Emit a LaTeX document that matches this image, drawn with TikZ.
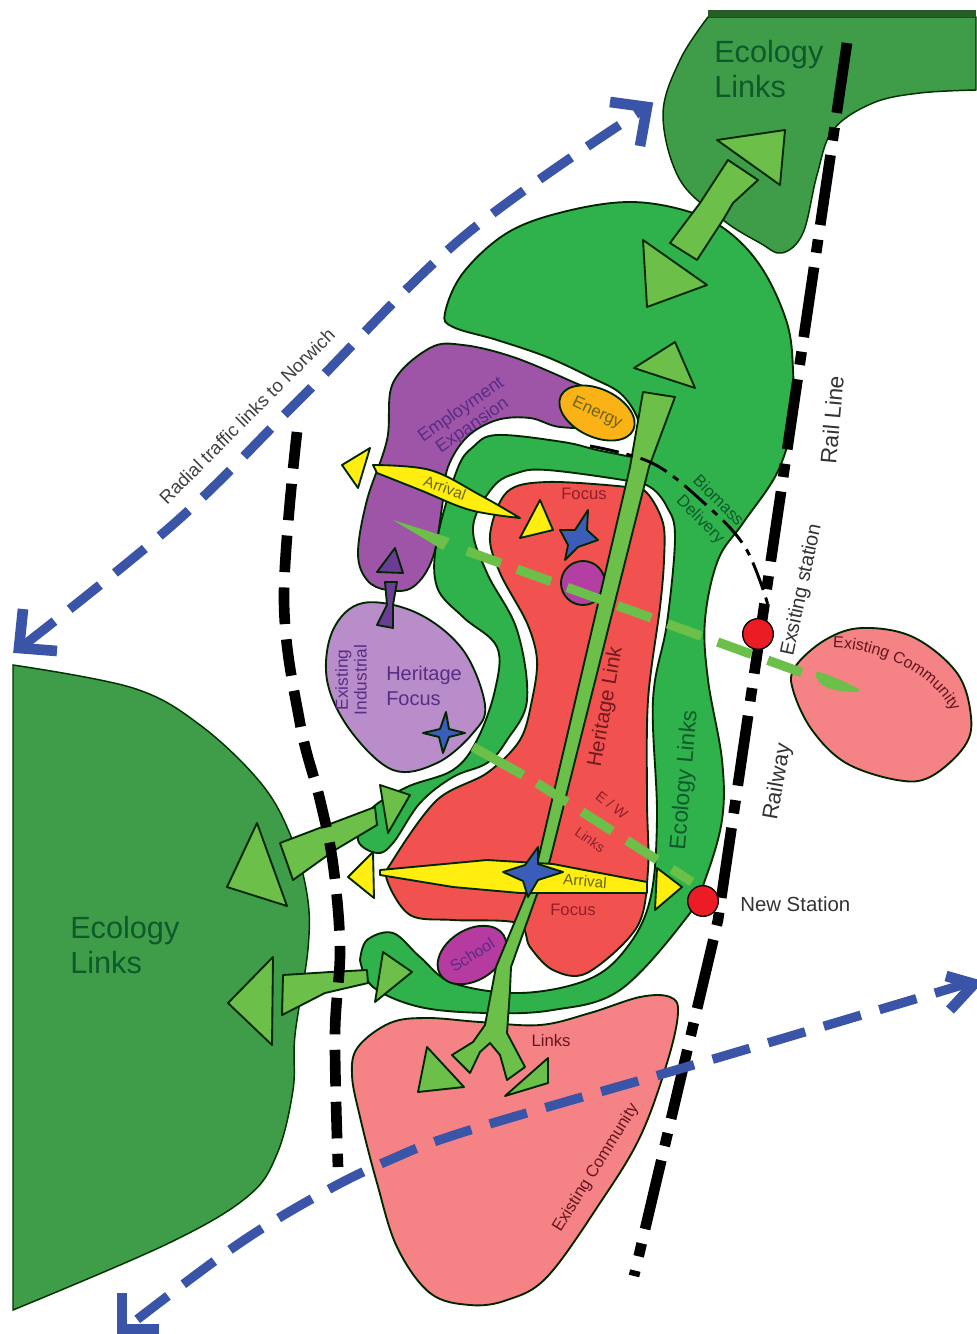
\documentclass[tikz,border=0pt]{standalone}
\usepackage{fontspec}
\setmainfont{Liberation Sans}
\usetikzlibrary{shapes.geometric,decorations.text}
\definecolor{eco}{HTML}{3F9C48}
\definecolor{mid}{HTML}{2FB24B}
\definecolor{lite}{HTML}{6CC04A}
\definecolor{redf}{HTML}{F1524F}
\definecolor{pinkc}{HTML}{F58284}
\definecolor{purp}{HTML}{9E55A8}
\definecolor{lpurp}{HTML}{B98DC9}
\definecolor{schl}{HTML}{B53BA0}
\definecolor{bluel}{HTML}{3A55A8}
\definecolor{star}{HTML}{3B5CB8}
\definecolor{yell}{HTML}{FFEE10}
\definecolor{orng}{HTML}{FBB216}
\definecolor{dot}{HTML}{EC1C24}
\definecolor{dgreen}{HTML}{0E5A2B}
\definecolor{dred}{HTML}{8F1F2A}
\definecolor{dcom}{HTML}{641620}
\definecolor{dpurp}{HTML}{5A2C85}
\definecolor{olive}{HTML}{6A6410}
\definecolor{arrp}{HTML}{6A3C96}
\tikzset{
  ol/.style={draw=black!85!green,line width=1.4pt,line join=round},
  sm/.style={smooth,tension=.6},
  smc/.style={smooth cycle,tension=.6},
  txt/.style={inner sep=0pt,align=center,text=#1},
  txt/.default=black,
  bluedash/.style={draw=bluel,line width=7pt,dash pattern=on 29pt off 14.5pt},
  westdash/.style={draw=black,line width=8pt,dash pattern=on 27.5pt off 11.5pt},
  raildash/.style={draw=black,line width=8pt,dash pattern=on 53pt off 11pt on 10pt off 11pt},
  ewdash/.style={draw=lite,line width=7pt,dash pattern=on 27pt off 13pt},
  chev/.style={draw=bluel,line width=8pt,miter limit=10}
}
\newcommand{\fz}[1]{\fontsize{#1}{#1}\selectfont}
\begin{document}
\begin{tikzpicture}[x=.75pt,y=-.75pt]
\useasboundingbox (0,0) rectangle (976,1334);
% dark ecology
\path[fill=eco,draw=black!80!green,line width=1.1pt] (13,665) -- plot[sm] coordinates {(13,665) (133,688) (200,725) (260,782) (290,834) (307,894) (308,949) (295,1035) (293,1090) (277,1154) (247,1197) (167,1244) (13,1310)} -- cycle;
\path[fill=eco,draw=black!80!green,line width=1.1pt] plot[sm] coordinates {(708,17) (680,60) (663,115) (680,180) (723,220) (760,243) (782,253) (803,233) (817,175) (833,130) (873,103) (920,93) (976,90)} -- (976,17) -- cycle;
\fill[black!70!green!70!gray] (708,10) rectangle (976,17);
% main ecology band
\path[fill=mid,ol] plot[sm] coordinates {(360,960) (367,940) (393,933) (420,957) (453,983) (520,993) (587,980) (625,950) (650,900) (657,817) (653,700) (667,623) (675,537) (667,507) (650,487) (623,480) (547,470) (517,473) (493,487) (473,527) (487,573) (517,630) (527,700) (507,740) (487,763) (453,777) (420,803) (393,843) (377,853) (358,840) (370,810) (407,787) (453,770) (477,740) (495,690) (497,647) (463,617) (437,587) (437,540) (457,470) (473,447) (497,435) (563,442) (597,450) (632,457)} -- plot[sm] coordinates {(632,457) (638,437) (637,417) (620,393) (590,377) (547,357) (497,340) (453,327) (445,313) (463,273) (507,233) (563,212) (630,202) (690,212) (730,233) (763,270) (787,323) (793,370) (792,423) (777,473) (743,523) (718,560) (705,620) (708,680) (722,760) (722,820) (705,880) (687,917) (620,990) (553,1010) (487,1013) (420,1007) (373,987) (360,960)} -- cycle;
% red focus
\path[fill=redf,ol] plot[smc,tension=.55] coordinates {(507,492) (547,482) (627,487) (647,493) (663,523) (664,560) (660,607) (648,700) (647,800) (648,870) (637,927) (587,973) (553,970) (530,947) (517,923) (453,920) (410,915) (387,880) (393,860) (437,800) (487,773) (520,740) (532,700) (537,660) (527,623) (500,573) (490,535)};
% purple
\path[fill=purp,ol] plot[smc] coordinates {(393,383) (430,348) (463,345) (513,357) (573,382) (610,400) (600,425) (560,427) (530,418) (497,420) (467,437) (448,467) (443,500) (433,557) (413,587) (387,590) (367,580) (358,553) (367,500) (387,440)};
% energy
\node[ellipse,ol,fill=orng,minimum width=60pt,minimum height=36pt,inner sep=0pt,rotate=-25,text=olive,font=\fz{12.5}] (energy) at (597,413) {Energy};
% heritage focus
\path[fill=lpurp,ol] plot[smc] coordinates {(363,603) (417,613) (463,650) (485,705) (473,733) (437,763) (393,770) (350,730) (327,680) (333,630)};
% east community
\path[fill=pinkc,ol] plot[smc] coordinates {(795,667) (825,640) (862,628) (913,637) (957,673) (971,717) (964,747) (930,777) (897,780) (846,763) (812,730) (793,690)};
% south community
\path[fill=pinkc,ol] plot[smc] coordinates {(358,1047) (390,1023) (427,1018) (480,1022) (540,1025) (590,1013) (640,997) (670,997) (678,1013) (667,1063) (640,1137) (600,1203) (547,1277) (507,1300) (470,1305) (430,1293) (397,1247) (377,1183) (360,1117) (352,1075)};
% school
\node[ellipse,ol,fill=schl,minimum width=56pt,minimum height=38pt,inner sep=0pt,rotate=32,text=dpurp,font=\fz{12}] (school) at (472,955) {School};
% purple circle
\node[circle,ol,fill=schl!85!purp,minimum size=33pt,inner sep=0pt] (pcirc) at (583,583) {};
% heritage link
\path[fill=lite,ol] (643,392) -- (675,397) -- (649,467) -- (550,860) -- (536,897) -- (511,967) -- (510,990) -- (507,1033) -- (525,1067) -- (507,1080) -- (500,1055) -- (490,1043) -- (480,1052) -- (470,1073) -- (452,1055) -- (473,1042) -- (485,1025) -- (496,967) -- (525,897) -- (538,860) -- (630,467) -- cycle;
\path[fill=lite,ol] (634,368) -- (675,342) -- (695,388) -- cycle;
\path[fill=lite,ol] (427,1047) -- (464,1087) -- (418,1092) -- cycle;
\path[fill=lite,ol] (548,1058) -- (548,1083) -- (505,1096) -- cycle;
% green double arrows
\path[fill=lite,ol] (257,823) -- (227,887) -- (287,906) -- cycle;
\path[fill=lite,ol] (280,843) -- (330,824) -- (375,807) -- (377,825) -- (335,850) -- (293,880) -- cycle;
\path[fill=lite,ol] (380,785) -- (410,795) -- (388,833) -- cycle;
\path[fill=lite,ol] (273,957) -- (228,1003) -- (272,1045) -- cycle;
\path[fill=lite,ol] (283,975) -- (330,972) -- (367,970) -- (368,983) -- (325,993) -- (282,1015) -- cycle;
\path[fill=lite,ol] (383,952) -- (412,972) -- (375,1002) -- cycle;
\path[fill=lite,ol] (717,140) -- (785,130) -- (780,185) -- cycle;
\path[fill=lite,ol] (728,160) -- (758,180) -- (733,203) -- (723,220) -- (697,260) -- (670,243) -- (700,203) -- cycle;
\path[fill=lite,ol] (643,240) -- (707,285) -- (647,307) -- cycle;
% purple arrow
\path[fill=arrp,ol] (395,548) -- (403,573) -- (377,572) -- cycle;
\path[fill=arrp,ol] (385,582) -- (397,582) -- (393,605) -- (393,628) -- (377,625) -- (387,605) -- cycle;
% yellow arrows
\path[fill=yell,ol] plot[sm] coordinates {(373,465) (430,470) (480,495) (520,518)} -- plot[sm] coordinates {(520,518) (470,510) (420,490) (377,473)} -- cycle;
\path[fill=yell,ol] (370,448) -- (342,465) -- (358,488) -- cycle;
\path[fill=yell,ol] (540,500) -- (553,530) -- (520,538) -- cycle;
\path[fill=yell,ol] (380,870) -- (487,860) -- (553,864) -- (647,882) -- (647,893) -- (520,893) -- (453,887) -- (380,875) -- cycle;
\path[fill=yell,ol] (373,852) -- (348,877) -- (374,898) -- cycle;
\path[fill=yell,ol] (657,868) -- (682,887) -- (655,910) -- cycle;
% stars
\path[fill=star,ol] (538,847) -- (538,864) -- (563,872) -- (538,880) -- (528,897) -- (523,881) -- (503,872) -- (525,865) -- cycle;
\path[fill=star,ol] (588,510) -- (587,530) -- (598,540) -- (578,547) -- (565,560) -- (568,545) -- (560,530) -- (575,530) -- cycle;
\path[fill=star,ol] (446,712) -- (449,729) -- (465,733) -- (449,737) -- (443,753) -- (439,737) -- (423,733) -- (440,729) -- cycle;
% biomass thin dashed
\draw[black,line width=2.2pt,dash pattern=on 22pt off 6pt on 5pt off 6pt] plot[sm] coordinates {(590,446) (652,463) (703,502) (745,547) (768,605)};
% west dashed
\draw[westdash] plot[sm] coordinates {(297,432) (284,600) (300,723) (320,800) (333,864) (340,949) (335,1035) (338,1167)};
% rail
\coordinate (r0) at (847,43);
\coordinate (r1) at (718,920);
\coordinate (r2) at (634,1276);
\draw[raildash] (r0) -- (r1) -- (r2);
% red dots
\node[circle,draw=black,line width=1pt,fill=dot,minimum size=23pt,inner sep=0pt] (dotN) at (758,634) {};
\node[circle,draw=black,line width=1pt,fill=dot,minimum size=23pt,inner sep=0pt] (dotS) at (703,901) {};
% EW dashes
\coordinate (ewA0) at (467,551);
\coordinate (ewA1) at (803,673);
\coordinate (ewB0) at (537,783);
\coordinate (ewB1) at (692,882);
\draw[ewdash] (ewA0) -- (ewA1);
\draw[ewdash] (ewB0) -- (ewB1);
\draw[lite,line width=7pt] (473,747) -- (523,775);
\fill[lite] (393,520) -- (450,538) -- (443,550) -- cycle;
\path[fill=lite] plot[smc] coordinates {(817,672) (840,680) (860,691) (835,690) (820,683)};
% blue arrows
\draw[bluedash] plot[sm] coordinates {(24,645) (177,521) (301,398) (463,237) (644,109)};
\draw[bluedash] plot[sm] coordinates {(972,982) (700,1063) (470,1130) (385,1162) (315,1197) (234,1247) (126,1328)};
\draw[chev] (610,102) -- (647,107) -- (640,146);
\draw[chev] (23,609) -- (19,648) -- (57,651);
\draw[chev] (946,976) -- (974,984) -- (950,1010);
\draw[chev] (122,1293) -- (122,1329) -- (159,1329);
% texts
\node[txt=dgreen,font=\fz{23},align=left,anchor=west] (t1) at (714,69) {Ecology\\[3pt]Links};
\node[txt=dgreen,font=\fz{23},align=left,anchor=west] (t2) at (70,945) {Ecology\\[3pt]Links};
\node[txt=black!75,font=\fz{14},rotate=45] (t3) at (247,416) {Radial traffic links to Norwich};
\node[txt=black!80,font=\fz{17},rotate=85] (t4) at (832,420) {Rail Line};
\node[txt=black!80,font=\fz{15},rotate=78] (t5) at (802,590) {Exsiting station};
\node[txt=black!80,font=\fz{16.5},rotate=80] (t6) at (778,782) {Railway};
\node[txt=black!80,font=\fz{15.3},anchor=west] (t7) at (740,904) {New Station};
\path[decorate,decoration={text along path,text align=center,text={|\fz{12}\color{dcom}|Existing Community}}] (833,648) .. controls (870,648) and (930,668) .. (952,712);
\node[txt=dcom,font=\fz{12.5},rotate=58] (t9) at (596,1168) {Existing Community};
\node[txt=dcom,font=\fz{12.5}] (t10) at (551,1041) {Links};
\node[txt=dred,font=\fz{12.5}] (t11) at (584,494) {Focus};
\node[txt=dred,font=\fz{12.5}] (t12) at (573,910) {Focus};
\node[txt=dred!80!black,font=\fz{15.5},rotate=80] (t13) at (606,707) {Heritage Link};
\node[txt=dred,font=\fz{11},rotate=-38] (t14) at (612,805) {E / W};
\node[txt=dred,font=\fz{10.5},rotate=-35] (t15) at (590,840) {Links};
\node[txt=olive,font=\fz{11.5},rotate=-20] (t16) at (445,488) {Arrival};
\node[txt=olive,font=\fz{11.5},rotate=-5] (t17) at (585,881) {Arrival};
\node[txt=dpurp,font=\fz{13.5},rotate=35,align=center] (t18) at (467,418) {Employment\\[1pt]Expansion};
\node[txt=dpurp,font=\fz{13},rotate=90,align=center] (t19) at (351,680) {Existing\\[1pt]Industrial};
\node[txt=dpurp,font=\fz{15},align=left,anchor=west] (t20) at (386,686) {Heritage\\[4pt]Focus};
\node[txt=dgreen,font=\fz{12.5},rotate=-45] (t21) at (719,500) {Biomass};
\node[txt=dgreen,font=\fz{12.5},rotate=-45] (t22) at (700,520) {Delivery};
\node[txt=dgreen,font=\fz{17},rotate=85] (t23) at (685,780) {Ecology Links};
\end{tikzpicture}
\end{document}
